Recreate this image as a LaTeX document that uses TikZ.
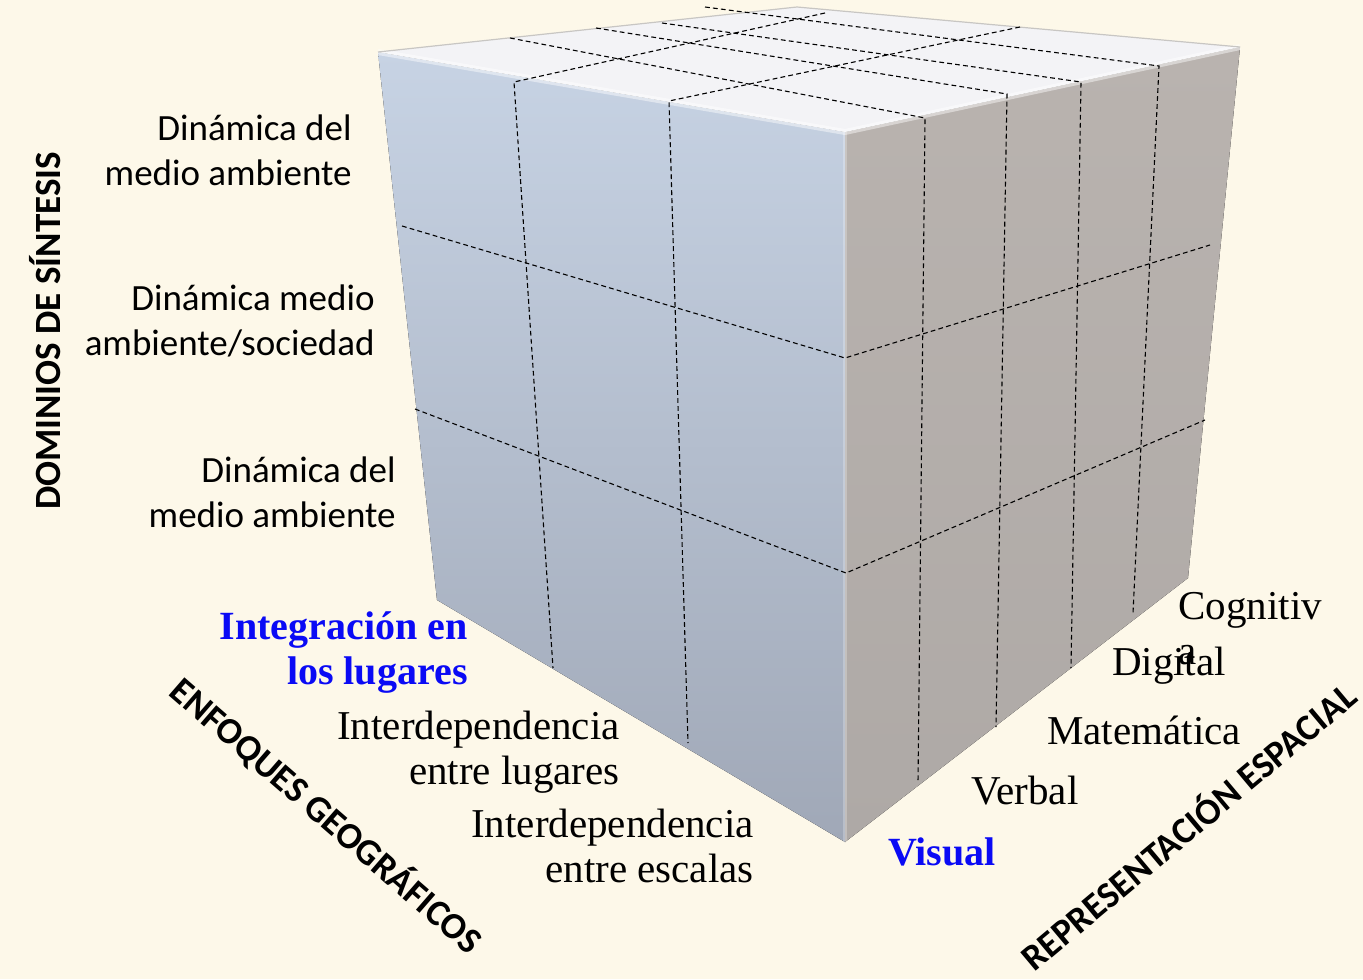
\documentclass[tikz,border=0pt]{standalone}
\usepackage{fontspec}
\setmainfont{Carlito}
\newfontfamily\camfont{Liberation Serif}

\definecolor{bgcream}{RGB}{253,248,233}
\definecolor{leftTop}{RGB}{199,211,228}
\definecolor{leftBot}{RGB}{160,168,183}
\definecolor{rightTop}{RGB}{185,179,175}
\definecolor{rightBot}{RGB}{174,169,166}
\definecolor{topFace}{RGB}{243,243,246}
\definecolor{edgeGray}{RGB}{200,198,195}
\definecolor{labelBlue}{RGB}{10,10,245}

\begin{document}
\begin{tikzpicture}[x=0.5pt, y=-0.5pt,
    gridline/.style={draw=black, line width=0.55pt, dash pattern=on 2.4pt off 1.6pt},
    sanslbl/.style={align=right, anchor=east, inner sep=0pt, font=\fontsize{18.5}{22.5}\selectfont},
    seriflbl/.style={inner sep=0pt, font=\camfont\fontsize{20.5}{22.5}\selectfont},
    serifbold/.style={inner sep=0pt, text=labelBlue, font=\camfont\bfseries\fontsize{20}{22.5}\selectfont},
    axislbl/.style={inner sep=0pt, font=\bfseries\fontsize{18.5}{22}\selectfont}]

    \useasboundingbox (0,0) rectangle (1363,979);
    \fill[bgcream] (0,0) rectangle (1363,979);

    % cube corners
    \coordinate (tl) at (378,52);
    \coordinate (bk) at (797,7);
    \coordinate (tr) at (1240,47);
    \coordinate (ft) at (845,132);
    \coordinate (fb) at (845,842);
    \coordinate (bl) at (437,600);
    \coordinate (br) at (1188,578);

    % faces
    \fill[top color=leftTop, bottom color=leftBot] (tl) -- (ft) -- (fb) -- (bl) -- cycle;
    \fill[top color=rightTop, bottom color=rightBot] (ft) -- (tr) -- (br) -- (fb) -- cycle;
    \fill[topFace] (tl) -- (bk) -- (tr) -- (ft) -- cycle;
    \draw[white, opacity=.45, line width=3pt] (tl) -- (ft) -- (tr);
    \draw[white, opacity=.25, line width=2pt] (ft) -- (fb);
    \draw[edgeGray, line width=0.6pt] (tl) -- (bk) -- (tr);

    % grid on the left face and the top
    \coordinate (lv1t) at (514,82);
    \coordinate (lv1b) at (553,668);
    \coordinate (lv2t) at (669,101);
    \coordinate (lv2b) at (688,743);
    \coordinate (tb1) at (825,13);
    \coordinate (tb2) at (1020,27);
    \draw[gridline] (tb1) -- (lv1t) -- (lv1b);
    \draw[gridline] (tb2) -- (lv2t) -- (lv2b);

    % grid on the top and the right face
    \coordinate (ta1) at (510,38);
    \coordinate (rv1t) at (925,118);
    \coordinate (rv1b) at (918,782);
    \coordinate (ta2) at (596,28);
    \coordinate (rv2t) at (1007,94);
    \coordinate (rv2b) at (996,727);
    \coordinate (ta3) at (662,23);
    \coordinate (rv3t) at (1081,82);
    \coordinate (rv3b) at (1071,668);
    \coordinate (ta4) at (705,7);
    \coordinate (rv4t) at (1159,66);
    \coordinate (rv4b) at (1133,613);
    \draw[gridline] (ta1) -- (rv1t) -- (rv1b);
    \draw[gridline] (ta2) -- (rv2t) -- (rv2b);
    \draw[gridline] (ta3) -- (rv3t) -- (rv3b);
    \draw[gridline] (ta4) -- (rv4t) -- (rv4b);

    % levels round the front edge
    \coordinate (lh1) at (402,226);
    \coordinate (fm1) at (845,358);
    \coordinate (rh1) at (1210,245);
    \coordinate (lh2) at (415,409);
    \coordinate (fm2) at (846,573);
    \coordinate (rh2) at (1205,420);
    \draw[gridline] (lh1) -- (fm1) -- (rh1);
    \draw[gridline] (lh2) -- (fm2) -- (rh2);

    % labels
    \node[sanslbl] (dyn1) at (352,150) {Dinámica del\\medio ambiente};
    \node[sanslbl] (dyn2) at ([xshift=11.5pt, yshift=-85.5pt]dyn1.east) {Dinámica medio\\ambiente/sociedad};
    \node[sanslbl] (dyn3) at ([xshift=10.5pt, yshift=-85.5pt]dyn2.east) {Dinámica del\\medio ambiente};

    \node[serifbold, align=right, anchor=east] (integ) at (468,653) {Integración en\\los lugares};
    \node[seriflbl, align=right, anchor=east] (lug) at ([xshift=76pt, yshift=-49.5pt]integ.east) {Interdependencia\\entre lugares};
    \node[seriflbl, align=right, anchor=east] (esc) at ([xshift=67pt, yshift=-47pt]lug.east) {Interdependencia\\entre escalas};

    \node[serifbold] (visual) at (942,852) {Visual};
    \node[seriflbl] (verbal) at (1025,791) {Verbal};
    \node[seriflbl] (mate) at (1144,730) {Matemática};
    \node[seriflbl] (digital) at (1169,666) {Digital};
    \node[seriflbl, align=left, anchor=west] (cogn) at (1178,629) {Cognitiv\\a};

    \node[axislbl, rotate=90] (dom) at (45,331) {DOMINIOS DE SÍNTESIS};
    \node[axislbl, rotate=-41] (enf) at (327,815) {ENFOQUES GEOGRÁFICOS};
    \node[axislbl, rotate=40] (rep) at (1187,825) {REPRESENTACIÓN ESPACIAL};

\end{tikzpicture}
\end{document}
